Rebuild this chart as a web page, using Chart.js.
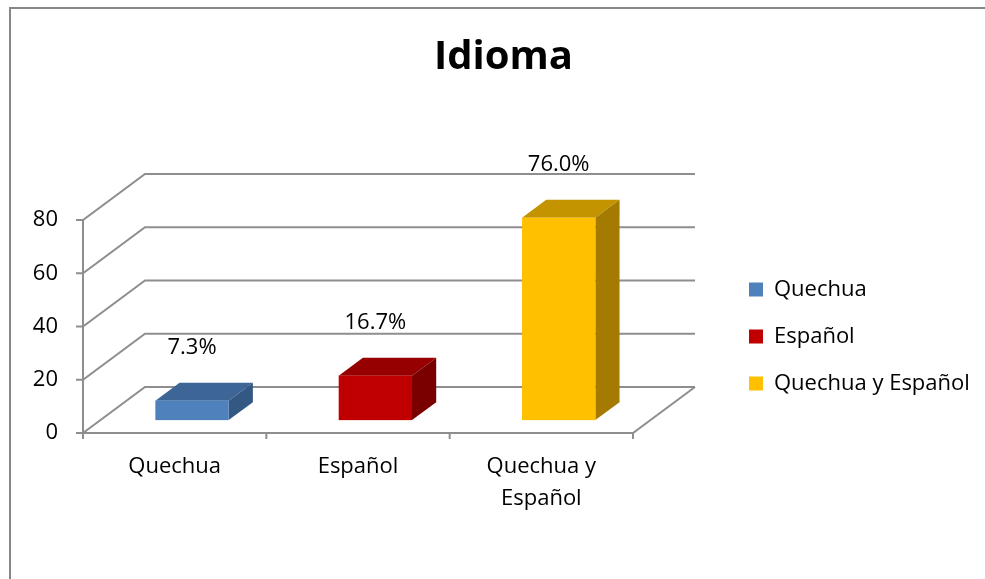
<!DOCTYPE html>
<html>
<head>
<meta charset="utf-8">
<script src="https://cdn.jsdelivr.net/npm/chart.js@4.4.0/dist/chart.umd.min.js"></script>
<style>
  body { margin: 0; background: #fff; }
  #wrap { position: relative; width: 985px; height: 579px; overflow: hidden; }
  #frame { position: absolute; left: 9px; top: 7px; width: 1200px; height: 800px;
           border-left: 2px solid #878787; border-top: 2px solid #878787; }
  #wrap canvas { position: absolute; left: 0; top: 0; }
</style>
</head>
<body>
<div id="wrap">
  <div id="frame"></div>
  <canvas id="chart" width="985" height="579"></canvas>
</div>
<script>
const categories = ["Quechua", "Español", "Quechua y Español"];
const tickLabels = [["Quechua"], ["Español"], ["Quechua y", "Español"]];
const values = [7.3, 16.7, 76.0];
const yTicks = [0, 20, 40, 60, 80];

const frontColors = ["#4F81BD", "#C00000", "#FFC000"];
const topColors = ["#3D6596", "#960000", "#C49400"];
const sideColors = ["#345884", "#7A0000", "#A47B00"];

// fake depth of the excel 3d box
const DEPTH_X = 62, DEPTH_Y = -46;
const BAR_PLANE = 0.28, BAR_DEPTH = 0.39;
const FONT = "Open Sans";

Chart.defaults.color = "#000";
Chart.defaults.font.family = FONT;
Chart.defaults.font.size = 22;

function poly(ctx, pts, color) {
  ctx.beginPath();
  ctx.moveTo(pts[0][0], pts[0][1]);
  for (let i = 1; i < pts.length; i++) ctx.lineTo(pts[i][0], pts[i][1]);
  ctx.closePath();
  ctx.fillStyle = color;
  ctx.fill();
}

const box3d = {
  id: "box3d",
  afterLayout(chart) {
    // legend sits beside the back wall, right of the plot
    const lg = chart.legend;
    const area = chart.chartArea;
    const w = lg.width;
    lg.left = area.right + 91;
    lg.right = lg.left + w;
    lg.top = area.top + 10;
    lg.bottom = area.bottom + 10;
  },
  beforeDatasetsDraw(chart) {
    const ctx = chart.ctx;
    const ys = chart.scales.y;
    const left = chart.chartArea.left, right = chart.chartArea.right;
    const base = ys.getPixelForValue(0);
    const top = ys.getPixelForValue(yTicks[yTicks.length - 1]);

    ctx.save();
    ctx.strokeStyle = "#8e8e8e";
    ctx.lineWidth = 2;
    ctx.beginPath();
    yTicks.forEach((v) => {
      const y = ys.getPixelForValue(v);
      ctx.moveTo(left - 7, y);
      ctx.lineTo(left, y);
      ctx.lineTo(left + DEPTH_X, y + DEPTH_Y);
      ctx.lineTo(right + DEPTH_X, y + DEPTH_Y);
    });
    ctx.moveTo(left, top);
    ctx.lineTo(left, base);
    ctx.lineTo(right, base);
    ctx.lineTo(right + DEPTH_X, base + DEPTH_Y);
    // category ticks on the floor edge
    const n = categories.length;
    for (let i = 0; i <= n; i++) {
      const x = left + (i * (right - left)) / n;
      ctx.moveTo(x, base);
      ctx.lineTo(x, base + 6);
    }
    ctx.stroke();

    chart.data.datasets.forEach((ds, i) => {
      const meta = chart.getDatasetMeta(i);
      meta.data.forEach((bar, j) => {
        if (ds.data[j] == null) return;
        const w = bar.width;
        const x0 = bar.x - w / 2 + BAR_PLANE * DEPTH_X;
        const x1 = x0 + w;
        const yT = bar.y + BAR_PLANE * DEPTH_Y;
        const yB = bar.base + BAR_PLANE * DEPTH_Y;
        const bx = BAR_DEPTH * DEPTH_X, by = BAR_DEPTH * DEPTH_Y;
        poly(ctx, [[x0, yT], [x1, yT], [x1 + bx, yT + by], [x0 + bx, yT + by]], topColors[j]);
        poly(ctx, [[x1, yT], [x1 + bx, yT + by], [x1 + bx, yB + by], [x1, yB]], sideColors[j]);
        ctx.fillStyle = frontColors[j];
        ctx.fillRect(x0, yT, w, yB - yT);

        ctx.fillStyle = "#000";
        ctx.font = "22px " + FONT;
        ctx.textAlign = "center";
        ctx.textBaseline = "middle";
        ctx.fillText(ds.data[j].toFixed(1) + "%", x0 + w / 2, yT - 53);
      });
    });
    ctx.restore();
    return false;
  },
};

const ctx = document.getElementById("chart").getContext("2d");
const chart = new Chart(ctx, {
  type: "bar",
  data: {
    labels: tickLabels,
    datasets: categories.map((name, i) => ({
      label: name,
      data: values.map((v, j) => (j === i ? v : null)),
      backgroundColor: frontColors[i],
      borderWidth: 0,
      grouped: false,
      categoryPercentage: 0.4,
      barPercentage: 1,
    })),
  },
  options: {
    responsive: false,
    animation: false,
    layout: { padding: { left: 22, right: 0, top: 0, bottom: 0 } },
    scales: {
      x: {
        grid: { display: false, drawTicks: false },
        border: { display: false },
        ticks: { padding: 18, maxRotation: 0, font: { size: 22, lineHeight: 1.45 } },
        afterFit: (s) => { s.height = 146; },
      },
      y: {
        min: 0,
        max: 80,
        grid: { display: false, drawTicks: false },
        border: { display: false },
        ticks: { stepSize: 20, padding: 25 },
        afterFit: (s) => { s.width = 61; },
      },
      yGap: {
        position: "right",
        grid: { display: false, drawTicks: false },
        border: { display: false },
        ticks: { display: false },
        afterFit: (s) => { s.width = 352; },
      },
    },
    plugins: {
      title: {
        display: true,
        text: "Idioma",
        font: { size: 40, weight: "bold", lineHeight: 1.2 },
        padding: { top: 34, bottom: 138 },
      },
      legend: {
        position: "chartArea",
        labels: { boxWidth: 14, boxHeight: 14, padding: 25, font: { size: 22 } },
      },
      tooltip: { enabled: false },
    },
  },
  plugins: [box3d],
});
</script>
</body>
</html>
